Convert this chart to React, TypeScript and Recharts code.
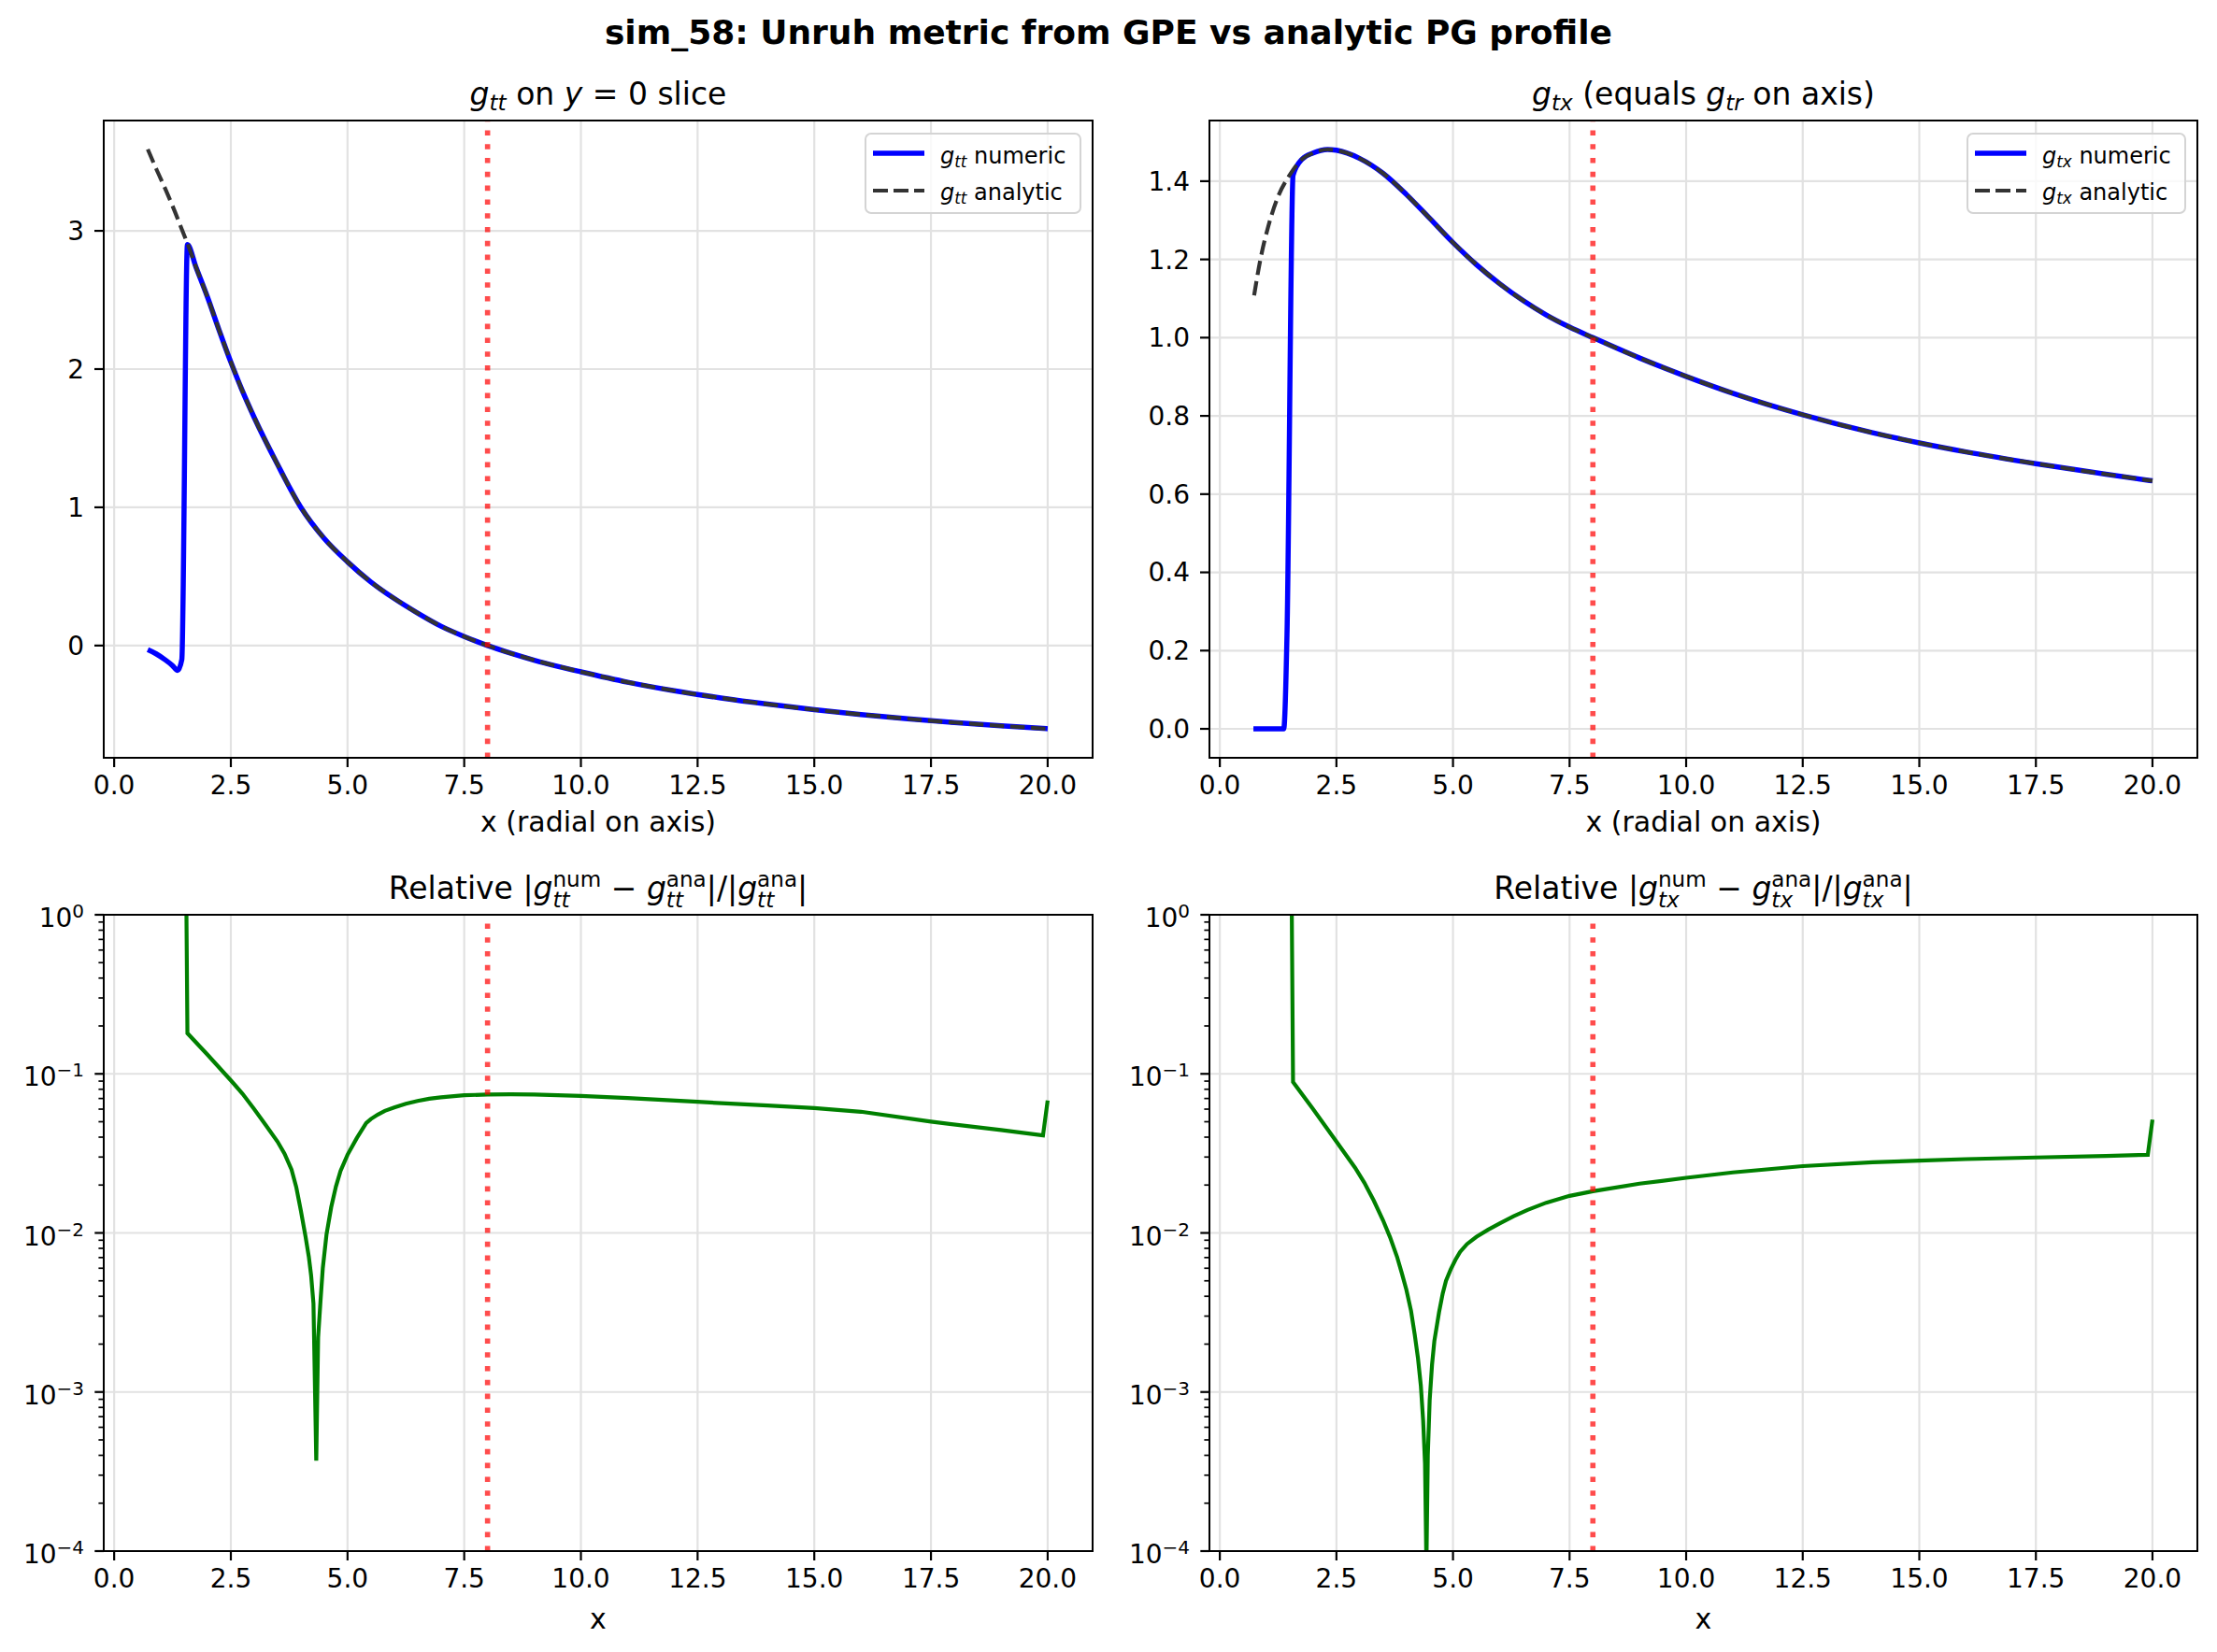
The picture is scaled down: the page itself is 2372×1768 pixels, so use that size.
import React from "react";
import { LineChart, Line, XAxis, YAxis, CartesianGrid, ReferenceLine } from "recharts";

// ---- values ----
const xTicks = [0, 2.5, 5, 7.5, 10, 12.5, 15, 17.5, 20];
const gttTicks = [0, 1, 2, 3];
const gtxTicks = [0, 0.2, 0.4, 0.6, 0.8, 1.0, 1.2, 1.4];
const logMajor = [1e-4, 1e-3, 1e-2, 1e-1, 1];
const logTicks = [
  1e-4, 2e-4, 3e-4, 4e-4, 5e-4, 6e-4, 7e-4, 8e-4, 9e-4,
  1e-3, 2e-3, 3e-3, 4e-3, 5e-3, 6e-3, 7e-3, 8e-3, 9e-3,
  1e-2, 2e-2, 3e-2, 4e-2, 5e-2, 6e-2, 7e-2, 8e-2, 9e-2,
  1e-1, 0.2, 0.3, 0.4, 0.5, 0.6, 0.7, 0.8, 0.9, 1,
];

const gttNumX = [0.72, 0.9, 1.1, 1.25, 1.36, 1.45, 1.57, 1.75, 2.0, 2.25, 2.5, 2.75, 3.0, 3.5, 4.0, 4.5, 5.0, 5.5, 6.0, 6.5, 7.0, 7.5, 8.0, 8.5, 9.0, 9.5, 10, 11, 12, 13, 14, 15, 16, 17, 18, 19, 20];
const gttNumY = [-0.03, -0.06, -0.105, -0.145, -0.18, -0.1, 2.9, 2.74, 2.52, 2.28, 2.05, 1.84, 1.65, 1.31, 1.0, 0.775, 0.605, 0.46, 0.34, 0.235, 0.14, 0.065, 0.0, -0.056, -0.106, -0.15, -0.19, -0.265, -0.327, -0.379, -0.424, -0.464, -0.499, -0.53, -0.557, -0.581, -0.602];

const gttAnaX = [0.72, 0.9, 1.1, 1.3, 1.45, 1.57, 1.75, 2.0, 2.25, 2.5, 2.75, 3.0, 3.5, 4.0, 4.5, 5.0, 5.5, 6.0, 6.5, 7.0, 7.5, 8.0, 8.5, 9.0, 9.5, 10, 11, 12, 13, 14, 15, 16, 17, 18, 19, 20];
const gttAnaY = [3.59, 3.45, 3.3, 3.14, 3.01, 2.91, 2.74, 2.52, 2.28, 2.05, 1.84, 1.65, 1.31, 1.0, 0.775, 0.605, 0.46, 0.34, 0.235, 0.14, 0.065, 0.0, -0.056, -0.106, -0.15, -0.19, -0.265, -0.327, -0.379, -0.424, -0.464, -0.499, -0.53, -0.557, -0.581, -0.602];

const gtxNumX = [0.72, 1.37, 1.44, 1.57, 1.77, 2.0, 2.31, 2.5, 3.0, 3.5, 4.0, 4.5, 5.0, 5.5, 6.0, 6.5, 7.0, 7.5, 8.0, 9.0, 10, 11, 12.5, 14, 15, 16, 17.5, 19, 20];
const gtxNumY = [0, 0, 0.24, 1.415, 1.457, 1.472, 1.481, 1.479, 1.458, 1.42, 1.366, 1.305, 1.243, 1.187, 1.138, 1.095, 1.058, 1.027, 1.0, 0.948, 0.901, 0.858, 0.803, 0.757, 0.731, 0.708, 0.678, 0.651, 0.634];

const gtxAnaX = [0.735, 0.87, 1.04, 1.24, 1.5, 1.77, 2.0, 2.31, 2.5, 3.0, 3.5, 4.0, 4.5, 5.0, 5.5, 6.0, 6.5, 7.0, 7.5, 8.0, 9.0, 10, 11, 12.5, 14, 15, 16, 17.5, 19, 20];
const gtxAnaY = [1.108, 1.2, 1.285, 1.358, 1.416, 1.457, 1.472, 1.481, 1.479, 1.458, 1.42, 1.366, 1.305, 1.243, 1.187, 1.138, 1.095, 1.058, 1.027, 1.0, 0.948, 0.901, 0.858, 0.803, 0.757, 0.731, 0.708, 0.678, 0.651, 0.634];

const gttRelX = [0.72, 1.0, 1.25, 1.5, 1.57, 2.0, 2.5, 2.75, 3.0, 3.25, 3.5, 3.65, 3.8, 3.9, 4.0, 4.1, 4.17, 4.22, 4.27, 4.33, 4.37, 4.42, 4.47, 4.55, 4.65, 4.75, 4.85, 5.0, 5.2, 5.4, 5.5, 5.65, 5.8, 6.0, 6.25, 6.5, 6.75, 7.0, 7.5, 8.0, 8.5, 9.0, 10, 11, 12.5, 14, 15, 16, 17.5, 19, 19.9, 20];
const gttRelY = [50, 50, 50, 50, 0.18, 0.132, 0.091, 0.075, 0.06, 0.0475, 0.0375, 0.0315, 0.025, 0.0195, 0.0138, 0.0095, 0.0071, 0.0054, 0.0036, 0.00037, 0.0022, 0.0037, 0.006, 0.0098, 0.0145, 0.0195, 0.0245, 0.031, 0.0395, 0.049, 0.052, 0.0555, 0.0585, 0.0615, 0.0648, 0.0675, 0.0697, 0.0712, 0.0733, 0.0742, 0.0744, 0.0741, 0.0727, 0.0705, 0.0667, 0.0632, 0.061, 0.0578, 0.0501, 0.0443, 0.041, 0.068];

const gtxRelX = [0.72, 1.0, 1.25, 1.5, 1.57, 2.0, 2.5, 2.9, 3.1, 3.3, 3.5, 3.65, 3.8, 3.9, 4.0, 4.1, 4.18, 4.25, 4.31, 4.36, 4.4, 4.43, 4.46, 4.5, 4.55, 4.6, 4.7, 4.78, 4.85, 4.95, 5.05, 5.15, 5.3, 5.5, 5.75, 6.0, 6.3, 6.6, 7.0, 7.5, 8.0, 9.0, 10, 11, 12.5, 14, 15, 16, 17.5, 19, 19.9, 20];
const gtxRelY = [50, 50, 50, 50, 0.0889, 0.06, 0.0375, 0.0257, 0.02065, 0.016, 0.012, 0.0094, 0.00708, 0.00562, 0.0044, 0.00324, 0.00229, 0.00162, 0.0011, 0.00066, 0.000355, 0.00008, 0.0004, 0.00089, 0.00148, 0.00209, 0.00316, 0.00417, 0.00501, 0.00589, 0.00676, 0.00759, 0.00851, 0.00944, 0.01047, 0.01148, 0.01274, 0.01396, 0.01549, 0.0171, 0.0183, 0.0204, 0.0222, 0.024, 0.0263, 0.0278, 0.0285, 0.0291, 0.0298, 0.0305, 0.031, 0.0515];

const horizonX = 8;

// ---- layout ----
const FONT = '"DejaVu Sans", sans-serif';
const YW = 110;
const XH = 70;
const PT = 40;
const PR = 20;
const GRID = "#e2e2e2";

type Box = { left: number; top: number; w: number; h: number };
const TL: Box = { left: 111, top: 129, w: 1058, h: 682 };
const TR: Box = { left: 1294, top: 129, w: 1057, h: 682 };
const BL: Box = { left: 111, top: 979, w: 1058, h: 681 };
const BR: Box = { left: 1294, top: 979, w: 1057, h: 681 };

const pts = (xs: number[], ys: number[]) => xs.map((x, i) => ({ x, y: ys[i] }));

const LogTick = (props: any) => {
  const { x, y, payload } = props;
  const v = payload.value as number;
  const e = Math.round(Math.log10(v));
  const major = Math.abs(Math.log10(v) - e) < 1e-6;
  const axisX = x + 21;
  return (
    <g>
      <line x1={axisX - (major ? 9.7 : 5.6)} x2={axisX} y1={y} y2={y} stroke="#000" strokeWidth={major ? 2.2 : 1.7} />
      {major && (
        <text x={x} y={y + 13} textAnchor="end" fontSize={28} fill="#000" fontFamily={FONT}>
          10
          <tspan dy={-10} fontSize={20}>{e === 0 ? "0" : "\u2212" + Math.abs(e)}</tspan>
        </text>
      )}
    </g>
  );
};

const G = ({ sub, sup }: { sub: string; sup?: string }) => (
  <span>
    <span style={{ fontStyle: "italic" }}>g</span>
    {sup ? (
      <span style={{ display: "inline-block", position: "relative", fontSize: "0.7em" }}>
        <span style={{ position: "relative", top: "-0.57em" }}>{sup}</span>
        <span style={{ position: "absolute", left: 0, top: "0.39em", fontStyle: "italic" }}>{sub}</span>
      </span>
    ) : (
      <span style={{ fontSize: "0.7em", fontStyle: "italic", position: "relative", top: "0.25em" }}>{sub}</span>
    )}
  </span>
);

const Txt = ({ cx, baseline, size, bold, children }: any) => (
  <div
    style={{
      position: "absolute",
      left: cx - 700,
      width: 1400,
      top: baseline - 0.928 * size,
      textAlign: "center",
      fontSize: size,
      lineHeight: "normal",
      fontWeight: bold ? "bold" : "normal",
      whiteSpace: "nowrap",
    }}
  >
    {children}
  </div>
);

const Frame = ({ box }: { box: Box }) => (
  <div
    style={{
      position: "absolute",
      left: box.left - 1,
      top: box.top - 1,
      width: box.w + 2,
      height: box.h + 2,
      border: "2px solid #000",
      boxSizing: "border-box",
      pointerEvents: "none",
    }}
  />
);

const LegendBox = ({ box, width, sub }: { box: Box; width: number; sub: string }) => (
  <div
    style={{
      position: "absolute",
      left: box.left + box.w - 12 - width,
      top: box.top + 13,
      width,
      height: 87,
      boxSizing: "border-box",
      border: "2px solid #d4d4d4",
      borderRadius: 7,
      background: "rgba(255,255,255,0.8)",
      fontSize: 24,
    }}
  >
    <svg style={{ position: "absolute", left: 5, top: 0 }} width={62} height={87}>
      <line x1={2} x2={57} y1={20} y2={20} stroke="#0000ff" strokeWidth={5.5} />
      <line x1={2} x2={57} y1={60} y2={60} stroke="#333333" strokeWidth={4.2} strokeDasharray="16 6" />
    </svg>
    <div style={{ position: "absolute", left: 79, top: 31 - 0.928 * 24, lineHeight: "normal", whiteSpace: "nowrap" }}>
      <G sub={sub} /> numeric
    </div>
    <div style={{ position: "absolute", left: 79, top: 70 - 0.928 * 24, lineHeight: "normal", whiteSpace: "nowrap" }}>
      <G sub={sub} /> analytic
    </div>
  </div>
);

const xAxisEl = (
  <XAxis
    type="number"
    dataKey="x"
    domain={[-0.223, 20.963]}
    allowDataOverflow
    ticks={xTicks}
    interval={0}
    tickFormatter={(v: number) => v.toFixed(1)}
    axisLine={false}
    tickLine={{ stroke: "#000", strokeWidth: 2.2 }}
    tickSize={10}
    tickMargin={9}
    tick={{ fontSize: 28, fill: "#000", fontFamily: FONT }}
    height={XH}
  />
);

const refLine = (
  <ReferenceLine x={horizonX} stroke="#ff0000" strokeOpacity={0.7} strokeWidth={5.6} strokeDasharray="5.6 9.2" />
);

function chartPos(box: Box) {
  return { position: "absolute" as const, left: box.left - YW, top: box.top - PT };
}

export default function App() {
  const size = (b: Box) => ({ width: b.w + YW + PR, height: b.h + PT + XH });
  const margin = { top: PT, right: PR, left: 0, bottom: 0 };
  return (
    <div
      style={{
        position: "absolute",
        left: 0,
        top: 0,
        width: 2372,
        height: 1768,
        background: "#fff",
        fontFamily: FONT,
        color: "#000",
        overflow: "hidden",
      }}
    >
      {/* top left: g_tt */}
      <div style={chartPos(TL)}>
        <LineChart {...size(TL)} margin={margin}>
          <CartesianGrid stroke={GRID} strokeWidth={2.2} />
          {xAxisEl}
          <YAxis
            type="number"
            domain={[-0.812, 3.798]}
            allowDataOverflow
            ticks={gttTicks}
            interval={0}
            axisLine={false}
            tickLine={{ stroke: "#000", strokeWidth: 2.2 }}
            tickSize={10}
            tickMargin={11}
            tick={{ fontSize: 28, fill: "#000", fontFamily: FONT }}
            width={YW}
          />
          <Line data={pts(gttNumX, gttNumY)} dataKey="y" type="monotone" stroke="#0000ff" strokeWidth={5.5} dot={false} isAnimationActive={false} />
          <Line data={pts(gttAnaX, gttAnaY)} dataKey="y" type="monotone" stroke="#333333" strokeWidth={4.2} strokeDasharray="15.4 6.7" dot={false} isAnimationActive={false} />
          {refLine}
        </LineChart>
      </div>

      {/* top right: g_tx */}
      <div style={chartPos(TR)}>
        <LineChart {...size(TR)} margin={margin}>
          <CartesianGrid stroke={GRID} strokeWidth={2.2} />
          {xAxisEl}
          <YAxis
            type="number"
            domain={[-0.074, 1.555]}
            allowDataOverflow
            ticks={gtxTicks}
            interval={0}
            tickFormatter={(v: number) => v.toFixed(1)}
            axisLine={false}
            tickLine={{ stroke: "#000", strokeWidth: 2.2 }}
            tickSize={10}
            tickMargin={11}
            tick={{ fontSize: 28, fill: "#000", fontFamily: FONT }}
            width={YW}
          />
          <Line data={pts(gtxNumX, gtxNumY)} dataKey="y" type="monotone" stroke="#0000ff" strokeWidth={5.5} dot={false} isAnimationActive={false} />
          <Line data={pts(gtxAnaX, gtxAnaY)} dataKey="y" type="monotone" stroke="#333333" strokeWidth={4.2} strokeDasharray="15.4 6.7" dot={false} isAnimationActive={false} />
          {refLine}
        </LineChart>
      </div>

      {/* bottom left: relative error g_tt */}
      <div style={chartPos(BL)}>
        <LineChart {...size(BL)} margin={margin}>
          <CartesianGrid stroke={GRID} strokeWidth={2.2} horizontalValues={logMajor} />
          {xAxisEl}
          <YAxis
            type="number"
            scale="log"
            domain={[1e-4, 1]}
            allowDataOverflow
            ticks={logTicks}
            interval={0}
            axisLine={false}
            tickLine={false}
            tickSize={10}
            tickMargin={11}
            tick={(p: any) => <LogTick {...p} />}
            width={YW}
          />
          <Line data={pts(gttRelX, gttRelY)} dataKey="y" type="linear" stroke="#008000" strokeWidth={4.2} dot={false} isAnimationActive={false} />
          {refLine}
        </LineChart>
      </div>

      {/* bottom right: relative error g_tx */}
      <div style={chartPos(BR)}>
        <LineChart {...size(BR)} margin={margin}>
          <CartesianGrid stroke={GRID} strokeWidth={2.2} horizontalValues={logMajor} />
          {xAxisEl}
          <YAxis
            type="number"
            scale="log"
            domain={[1e-4, 1]}
            allowDataOverflow
            ticks={logTicks}
            interval={0}
            axisLine={false}
            tickLine={false}
            tickSize={10}
            tickMargin={11}
            tick={(p: any) => <LogTick {...p} />}
            width={YW}
          />
          <Line data={pts(gtxRelX, gtxRelY)} dataKey="y" type="linear" stroke="#008000" strokeWidth={4.2} dot={false} isAnimationActive={false} />
          {refLine}
        </LineChart>
      </div>

      <Frame box={TL} />
      <Frame box={TR} />
      <Frame box={BL} />
      <Frame box={BR} />

      <LegendBox box={TL} width={232} sub="tt" />
      <LegendBox box={TR} width={235} sub="tx" />

      <Txt cx={1186} baseline={47} size={36} bold>
        sim_58: Unruh metric from GPE vs analytic PG profile
      </Txt>

      <Txt cx={TL.left + TL.w / 2} baseline={112} size={33}>
        <G sub="tt" /> on <span style={{ fontStyle: "italic" }}>y</span> = 0 slice
      </Txt>
      <Txt cx={TR.left + TR.w / 2} baseline={112} size={33}>
        <G sub="tx" /> (equals <G sub="tr" /> on axis)
      </Txt>
      <Txt cx={BL.left + BL.w / 2} baseline={962} size={33}>
        Relative |<G sub="tt" sup="num" /> − <G sub="tt" sup="ana" />|/|<G sub="tt" sup="ana" />|
      </Txt>
      <Txt cx={BR.left + BR.w / 2} baseline={962} size={33}>
        Relative |<G sub="tx" sup="num" /> − <G sub="tx" sup="ana" />|/|<G sub="tx" sup="ana" />|
      </Txt>

      <Txt cx={TL.left + TL.w / 2} baseline={890} size={30}>x (radial on axis)</Txt>
      <Txt cx={TR.left + TR.w / 2} baseline={890} size={30}>x (radial on axis)</Txt>
      <Txt cx={BL.left + BL.w / 2} baseline={1743} size={30}>x</Txt>
      <Txt cx={BR.left + BR.w / 2} baseline={1743} size={30}>x</Txt>
    </div>
  );
}
